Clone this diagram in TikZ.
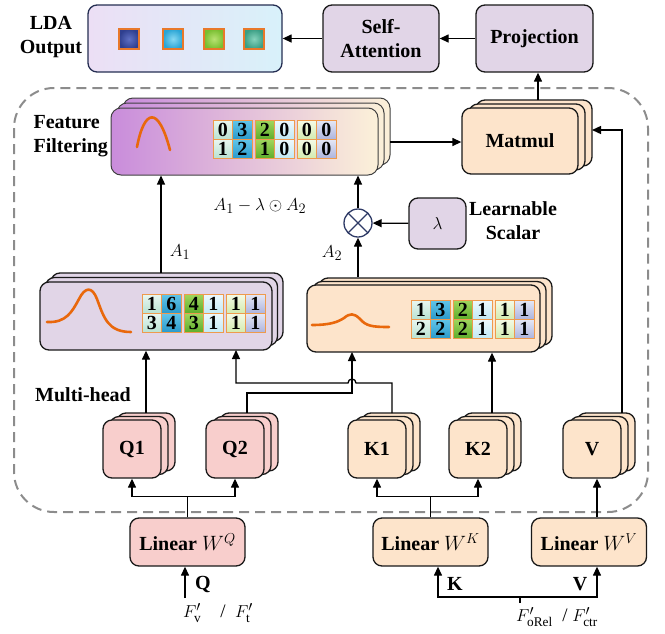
\documentclass[tikz,border=0pt]{standalone}
\usepackage{fontspec}
\setmainfont{Liberation Serif}
\usetikzlibrary{arrows.meta}

\definecolor{lav}{HTML}{E1D5E7}
\definecolor{peach}{HTML}{FDE4CB}
\definecolor{pinkq}{HTML}{F8CECC}
\definecolor{ffL}{HTML}{C98CDB}
\definecolor{ffR}{HTML}{FCF1D9}
\definecolor{ldaL}{HTML}{ECDFF5}
\definecolor{ldaR}{HTML}{D8F1FA}
\definecolor{navy}{HTML}{2E3A66}
\definecolor{curve}{HTML}{E9680C}
\definecolor{framegray}{HTML}{8C8C8C}
\definecolor{cellb}{HTML}{EE9A4D}
\definecolor{sqb}{HTML}{E8782A}
% output token colours: inner / outer
\definecolor{s1i}{HTML}{5F70C4}\definecolor{s1o}{HTML}{2F3F8F}
\definecolor{s2i}{HTML}{86D8F2}\definecolor{s2o}{HTML}{2AA5D5}
\definecolor{s3i}{HTML}{B8E272}\definecolor{s3o}{HTML}{78BE30}
\definecolor{s4i}{HTML}{86D3BC}\definecolor{s4o}{HTML}{3A9E84}
% cell colours per column: top / bottom
\definecolor{cgt0}{HTML}{EAF7F1}\definecolor{cgb0}{HTML}{B9E2D2}
\definecolor{cgt1}{HTML}{62C6EA}\definecolor{cgb1}{HTML}{2B9ACB}
\definecolor{cgt2}{HTML}{A2D65E}\definecolor{cgb2}{HTML}{5FAE2C}
\definecolor{cgt3}{HTML}{EEF9FD}\definecolor{cgb3}{HTML}{C2E9F5}
\definecolor{cgt4}{HTML}{F5FBE7}\definecolor{cgb4}{HTML}{D3EBB0}
\definecolor{cgt5}{HTML}{E6E8F6}\definecolor{cgb5}{HTML}{AEB5DE}

% two back layers behind a stacked box: style, cx, cy, w, h, dx, dy
\newcommand\layers[7]{%
  \path[#1] ({#2-#4/2+2*#6},{#3-#5/2-2*#7}) rectangle ++(#4,#5);
  \path[#1] ({#2-#4/2+#6},{#3-#5/2-#7}) rectangle ++(#4,#5);
}
% 2x6 grid of value cells: prefix, left x, top y, list col/upper/lower
\newcommand\cellgrid[4]{%
  \foreach \c/\u/\d in {#4} {
    \pgfmathsetmacro\cx{#2+\c*19.6+int(\c/2)*2.8+9.8}
    \node[cell, top color=cgt\c, bottom color=cgb\c] (#1-\c-1) at (\cx,{#3+9.5}) {\u};
    \node[cell, top color=cgt\c, bottom color=cgb\c] (#1-\c-2) at (\cx,{#3+28.5}) {\d};
  }%
}

\begin{document}
\begin{tikzpicture}[x=1pt, y=-1pt,
  txt/.style={font=\bfseries\fontsize{20}{24}\selectfont, align=center},
  mth/.style={font=\fontsize{19}{23}\selectfont},
  box/.style={draw=black!90, line width=1.3pt, rounded corners=9pt, inner sep=0pt, txt},
  lavbox/.style={box, fill=lav},
  peachbox/.style={box, fill=peach},
  pinkbox/.style={box, fill=pinkq},
  ffbox/.style={draw=black!75, line width=1pt, rounded corners=10pt, left color=ffL, right color=ffR},
  cell/.style={draw=cellb, line width=0.8pt, minimum width=19.6pt, minimum height=19pt,
    inner sep=0pt, font=\bfseries\fontsize{20}{20}\selectfont},
  sq/.style={draw=sqb, line width=1.3pt, minimum size=20pt, inner sep=0pt},
  conn/.style={line width=1.3pt, draw=black},
  arr/.style={conn, -{Triangle[length=9pt,width=8pt]}},
  wave/.style={draw=curve, line width=2.6pt, line cap=round},
  frame/.style={draw=framegray, line width=2pt, dash pattern=on 10pt off 6pt, rounded corners=40pt}
]
\useasboundingbox (0,0) rectangle (665,633);

% dashed frame of the attention block
\draw[frame] (14,88) rectangle (648,512);

% ---- output row ----
\node[box, draw=navy!80!black, left color=ldaL, right color=ldaR,
  minimum width=194pt, minimum height=67pt] (lda) at (185,38.5) {};
\node[sq, inner color=s1i, outer color=s1o] (sq1) at (129,39) {};
\node[sq, inner color=s2i, outer color=s2o] (sq2) at (173,39) {};
\node[sq, inner color=s3i, outer color=s3o] (sq3) at (214,39) {};
\node[sq, inner color=s4i, outer color=s4o] (sq4) at (254,39) {};
\node[txt] (ldalbl) at (51,37) {LDA\\Output};

\node[lavbox, minimum width=116pt, minimum height=67pt] (sa) at (381,38.5) {Self-\\Attention};
\node[lavbox, minimum width=117pt, minimum height=67pt] (proj) at (534.5,38.5) {Projection};
\draw[arr] (proj) -- (sa);
\draw[arr] (sa) -- (lda);

% ---- Matmul ----
\layers{peachbox}{520}{141}{116}{66}{7}{4}
\node[peachbox, minimum width=116pt, minimum height=66pt] (mm) at (520,141) {Matmul};
\coordinate (mmtop) at (538,100);
\coordinate (mmright) at (592,130);
\draw[arr] (mmtop) -- (mmtop |- proj.south);

% ---- Feature filtering ----
\layers{ffbox}{244.5}{141.5}{267}{67}{6}{5}
\node[ffbox, minimum width=267pt, minimum height=67pt, inner sep=0pt] (ff) at (244.5,141.5) {};
\draw[wave] (137,147) .. controls (144,110) and (158,104) .. (170,150);
\cellgrid{fg}{213}{120}{0/0/1,1/3/2,2/2/1,3/0/0,4/0/0,5/0/0}
\node[txt, align=left, anchor=west] (fflbl) at (30,136) {Feature\\Filtering};
\coordinate (ffright) at (390,142);
\draw[arr] (ffright) -- (ffright -| mm.west);

\node[mth] (expr) at (260,206) {$A_1-\lambda\odot A_2$};

% ---- lambda branch ----
\node[draw=navy, line width=1.3pt, circle, minimum size=28pt, inner sep=0pt,
  path picture={\draw[navy, line width=1.3pt]
    (path picture bounding box.north west) -- (path picture bounding box.south east)
    (path picture bounding box.north east) -- (path picture bounding box.south west);}]
  (ot) at (358,223) {};
\node[lavbox, minimum width=57pt, minimum height=51pt, font=\fontsize{19}{23}\selectfont] (lam) at (437.5,223.5) {$\lambda$};
\node[txt] (lamlbl) at (513,221) {Learnable\\Scalar};
\draw[arr] (lam) -- (ot);
\draw[arr] (ot) -- (ot |- ff.south);

% ---- multi-head score maps ----
\layers{lavbox}{156}{316}{232}{68}{5.5}{4.5}
\node[lavbox, minimum width=232pt, minimum height=68pt] (mh1) at (156,316) {};
\draw[wave] (47,322) .. controls (66,323) and (72,312) .. (79,299)
  .. controls (85,287) and (92,286) .. (97,299)
  .. controls (104,318) and (108,332) .. (131,332);
\cellgrid{ga}{142}{294}{0/1/3,1/6/4,2/4/3,3/1/1,4/1/1,5/1/1}

\layers{peachbox}{423.5}{318.5}{233}{67}{6}{3.5}
\node[peachbox, minimum width=233pt, minimum height=67pt] (mh2) at (423.5,318.5) {};
\draw[wave] (312,325) .. controls (330,325) and (338,322) .. (344,318)
  .. controls (350,313) and (354,313) .. (360,319)
  .. controls (366,326) and (372,327) .. (389,327);
\cellgrid{gb}{411}{300}{0/1/2,1/3/2,2/2/2,3/1/1,4/1/1,5/1/1}

\coordinate (mh1top) at (161,273);
\coordinate (mh2top) at (358,277);
\draw[arr] (mh1top) -- (mh1top |- ff.south);
\draw[arr] (mh2top) -- (ot.south);
\node[mth] (a1) at (180,252) {$A_1$};
\node[mth] (a2) at (332,253) {$A_2$};
\node[txt] (mhlbl) at (83,395) {Multi-head};

% ---- heads ----
\layers{pinkbox}{132}{449}{58}{58}{7}{3.5}
\node[pinkbox, minimum width=58pt, minimum height=58pt] (q1) at (132,449) {Q1};
\layers{pinkbox}{235}{449}{58}{58}{7}{3.5}
\node[pinkbox, minimum width=58pt, minimum height=58pt] (q2) at (235,449) {Q2};
\layers{peachbox}{377}{449}{58}{58}{7}{3.5}
\node[peachbox, minimum width=58pt, minimum height=58pt] (k1) at (377,449) {K1};
\layers{peachbox}{478}{449}{58}{58}{7}{3.5}
\node[peachbox, minimum width=58pt, minimum height=58pt] (k2) at (478,449) {K2};
\layers{peachbox}{592}{449}{58}{58}{7}{3.5}
\node[peachbox, minimum width=58pt, minimum height=58pt] (v) at (592,449) {V};

\coordinate (q1top) at (146,413);
\coordinate (q2top) at (247,413);
\coordinate (k1top) at (392,413);
\coordinate (k2top) at (492,413);
\coordinate (vtop) at (622,413);
\coordinate (mh1in) at (236,350);
\coordinate (mh2in) at (352,352);

\draw[arr] (q1top) -- (q1top |- mh1.south);
\draw[arr] (k1top) -- (392,383) -- (356,383) arc[start angle=0, end angle=180, radius=4pt]
  -- (236,383) -- (mh1in);
\draw[arr] (q2top) -- (247,393) -- (352,393) -- (mh2in);
\draw[arr] (k2top) -- (k2top |- mh2.south);
\draw[arr] (vtop) |- (mmright);

% ---- linear projections ----
\node[pinkbox, minimum width=115pt, minimum height=48pt] (linq) at (187.5,542) {Linear \textmd{$W^Q$}};
\node[peachbox, minimum width=115pt, minimum height=48pt] (link) at (430.5,542) {Linear \textmd{$W^K$}};
\node[peachbox, minimum width=115pt, minimum height=48pt] (linv) at (589,542) {Linear \textmd{$W^V$}};

\draw[arr] (linq.north) -- ++(0,-21) -| (q1.south);
\draw[arr] (linq.north) -- ++(0,-21) -| (q2.south);
\draw[arr] (link.north) -- ++(0,-21) -| (k1.south);
\draw[arr] (link.north) -- ++(0,-21) -| (k2.south);
\coordinate (vx) at (597,0);
\coordinate (kx) at (438,0);
\draw[arr] (linv.north -| vx) -- (v.south -| vx);

% ---- inputs ----
\coordinate (qin) at (185,598);
\draw[arr] (qin) -- (qin |- linq.south);
\node[txt] (qlbl) at (203,584) {Q};
\node[mth] (qsrc) at (218,613) {$F'_{\mathrm{v}}$\quad/\ \ $F'_{\mathrm{t}}$};

\coordinate (kvin) at (520,603);
\coordinate (kvj) at (520,597);
\draw[conn] (kvin) -- (kvj);
\draw[arr] (kvj) -| (link.south -| kx);
\draw[arr] (kvj) -| (linv.south -| vx);
\node[txt] (klbl) at (455,584) {K};
\node[txt] (vlbl) at (580,584) {V};
\node[mth] (kvsrc) at (557,617) {$F'_{\mathrm{oRel}}$\ \ /\ $F'_{\mathrm{ctr}}$};
\end{tikzpicture}
\end{document}
